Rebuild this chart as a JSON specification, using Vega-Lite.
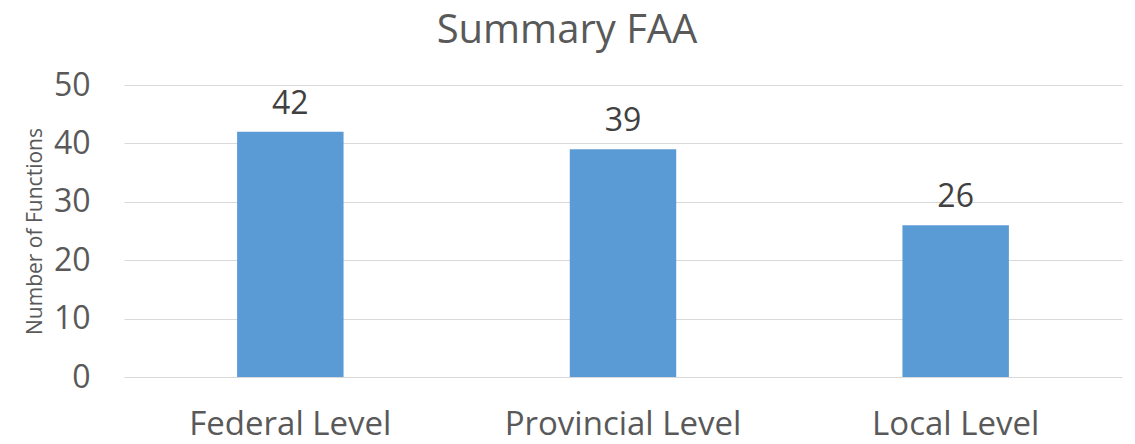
{
  "$schema": "https://vega.github.io/schema/vega-lite/v6.json",
  "width": 998,
  "height": 292,
  "autosize": {"type": "none"},
  "padding": {"left": 124, "top": 85, "right": 13, "bottom": 67},
  "background": "white",
  "title": {"text": "Summary FAA", "fontSize": 40, "font": "Open Sans", "fontWeight": "normal", "color": "#595959", "anchor": "middle", "frame": "group", "dx": -56, "offset": 18},
  "data": {"values": [
    {"level": "Federal Level", "count": 42},
    {"level": "Provincial Level", "count": 39},
    {"level": "Local Level", "count": 26}
  ]},
  "encoding": {
    "x": {"field": "level", "type": "nominal", "sort": null,
      "scale": {"paddingInner": 0.68, "paddingOuter": 0.34},
      "axis": {"title": null, "labelAngle": 0, "labelFont": "Open Sans", "labelFontSize": 33, "labelColor": "#595959", "labelPadding": 31, "labelLimit": 400, "domain": false, "ticks": false, "grid": false}},
    "y": {"field": "count", "type": "quantitative",
      "scale": {"domain": [0, 50]},
      "axis": {"title": "Number of Functions", "titleFont": "Open Sans", "titleFontSize": 21, "titleFontWeight": "normal", "titleColor": "#595959", "titlePadding": 8,
        "values": [0, 10, 20, 30, 40, 50], "labelFont": "Open Sans", "labelFontSize": 32, "labelColor": "#595959", "labelPadding": 34,
        "domain": false, "ticks": false, "gridColor": "#d9d9d9", "gridWidth": 1}}
  },
  "layer": [
    {"mark": {"type": "bar", "color": "#5b9bd5"}},
    {"mark": {"type": "text", "baseline": "bottom", "dy": -11, "font": "Open Sans", "fontSize": 32, "color": "#404040"},
     "encoding": {"text": {"field": "count", "type": "quantitative"}}}
  ],
  "config": {"view": {"stroke": null}}
}
